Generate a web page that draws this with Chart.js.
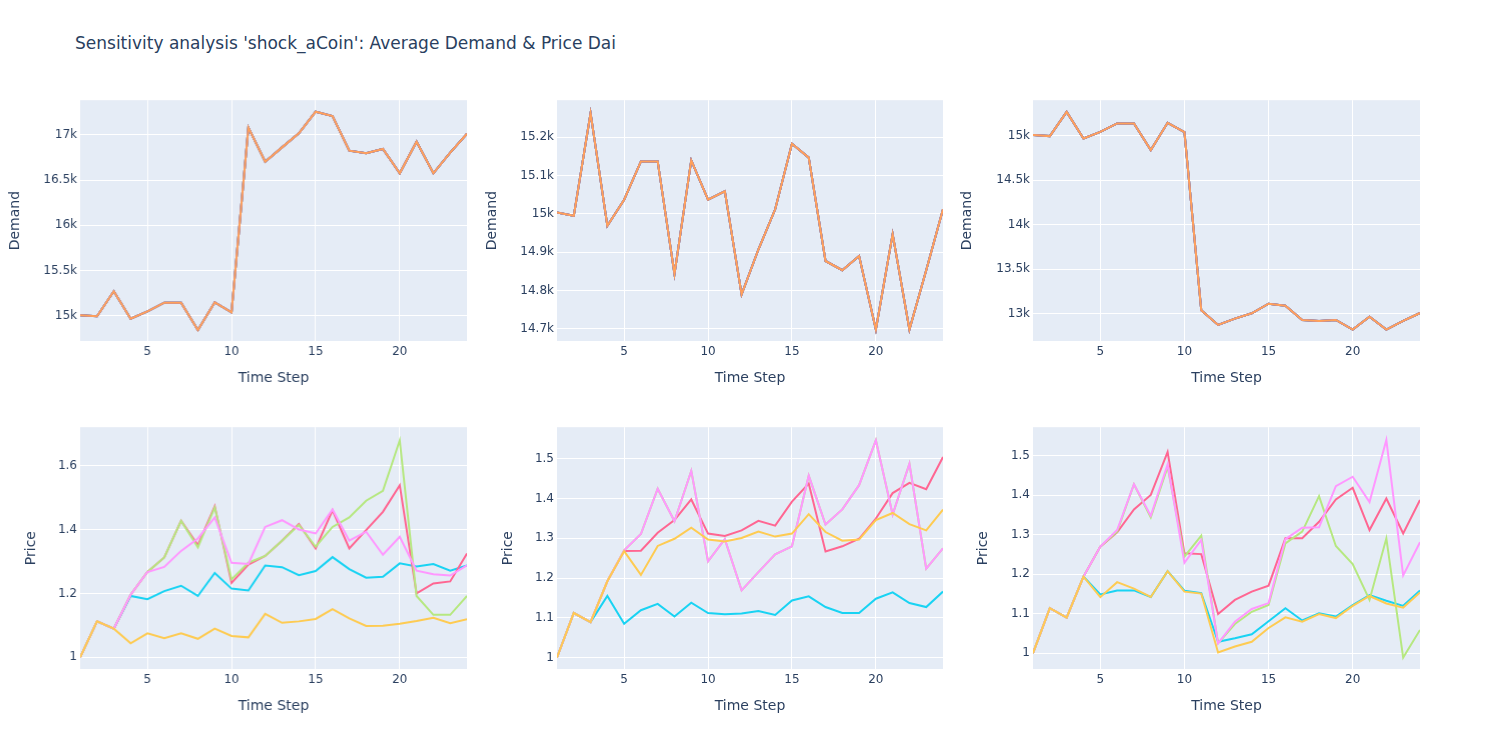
<!DOCTYPE html>
<html>
<head>
<meta charset="utf-8">
<script src="https://cdn.jsdelivr.net/npm/chart.js@4.4.1/dist/chart.umd.min.js"></script>
<style>
  body { margin: 0; background: #fff; width: 1500px; height: 750px; overflow: hidden; font-family: "DejaVu Sans", sans-serif; }
  #title { position: absolute; left: 75px; top: 33px; font-size: 17px; color: #2a3f5f; white-space: nowrap; }
  canvas { position: absolute; }
</style>
</head>
<body>
<div id="title">Sensitivity analysis 'shock_aCoin': Average Demand &amp; Price Dai</div>
<canvas id="c1"></canvas>
<canvas id="c2"></canvas>
<canvas id="c3"></canvas>
<canvas id="c4"></canvas>
<canvas id="c5"></canvas>
<canvas id="c6"></canvas>
<script>
// time steps
const steps = [1, 2, 3, 4, 5, 6, 7, 8, 9, 10, 11, 12, 13, 14, 15, 16, 17, 18, 19, 20, 21, 22, 23, 24];
const xTicks = [5, 10, 15, 20];

// average demand, one per subplot (all sweep runs overlap)
const demandA = [15004, 14993, 15270, 14967, 15048, 15144, 15144, 14841, 15148, 15037, 17081, 16705,
                 16863, 17018, 17258, 17210, 16827, 16797, 16845, 16576, 16926, 16576, 16804, 17015];
const demandB = [15004, 14995, 15263, 14969, 15037, 15137, 15137, 14843, 15140, 15037, 15059, 14790,
                 14907, 15012, 15183, 15147, 14877, 14853, 14890, 14698, 14947, 14698, 14853, 15012];
const demandC = [15004, 14993, 15265, 14966, 15041, 15135, 15135, 14836, 15142, 15037, 13037, 12873,
                 12944, 13004, 13112, 13090, 12929, 12918, 12929, 12821, 12966, 12821, 12918, 13007];

// price Dai, subplot 4
const priceA_cyan = [1.0, 1.1125, 1.0896, 1.192, 1.182, 1.207, 1.224, 1.192, 1.264, 1.215, 1.209, 1.2875,
                     1.282, 1.257, 1.270, 1.3135, 1.276, 1.249, 1.252, 1.294, 1.284, 1.292, 1.271, 1.2875];
const priceA_red = [1.0, 1.1125, 1.0896, 1.196, 1.267, 1.3125, 1.427, 1.351, 1.473, 1.233, 1.290, 1.317,
                    1.365, 1.417, 1.341, 1.460, 1.341, 1.398, 1.455, 1.5385, 1.200, 1.231, 1.2375, 1.325];
const priceA_green = [1.0, 1.1125, 1.0896, 1.196, 1.267, 1.3125, 1.427, 1.344, 1.469, 1.244, 1.296, 1.317,
                      1.365, 1.414, 1.346, 1.408, 1.4375, 1.490, 1.521, 1.679, 1.192, 1.133, 1.133, 1.192];
const priceA_pink = [1.0, 1.1125, 1.0896, 1.196, 1.267, 1.283, 1.333, 1.372, 1.4375, 1.296, 1.292, 1.408,
                     1.429, 1.400, 1.3875, 1.4625, 1.365, 1.393, 1.321, 1.377, 1.271, 1.260, 1.256, 1.2875];
const priceA_yellow = [1.0, 1.1125, 1.0896, 1.044, 1.075, 1.060, 1.075, 1.058, 1.090, 1.067, 1.0625, 1.136,
                       1.108, 1.1125, 1.120, 1.151, 1.122, 1.098, 1.099, 1.105, 1.1135, 1.124, 1.107, 1.119];

// price Dai, subplot 5
const priceB_cyan = [1.0, 1.112, 1.089, 1.155, 1.085, 1.119, 1.135, 1.103, 1.138, 1.112, 1.109, 1.111,
                     1.117, 1.107, 1.1435, 1.154, 1.127, 1.112, 1.112, 1.148, 1.164, 1.137, 1.127, 1.166];
const priceB_red = [1.0, 1.112, 1.089, 1.192, 1.268, 1.269, 1.314, 1.346, 1.398, 1.312, 1.306, 1.320,
                    1.344, 1.332, 1.3925, 1.438, 1.267, 1.280, 1.299, 1.350, 1.414, 1.440, 1.424, 1.505];
const priceB_green = [1.0, 1.112, 1.089, 1.192, 1.270, 1.311, 1.425, 1.343, 1.470, 1.242, 1.298, 1.169,
                      1.215, 1.260, 1.280, 1.458, 1.335, 1.373, 1.434, 1.547, 1.360, 1.488, 1.224, 1.275];
const priceB_pink = [1.0, 1.112, 1.089, 1.192, 1.270, 1.311, 1.425, 1.343, 1.470, 1.242, 1.298, 1.169,
                     1.215, 1.260, 1.280, 1.458, 1.335, 1.373, 1.434, 1.547, 1.360, 1.488, 1.224, 1.275];
const priceB_yellow = [1.0, 1.112, 1.089, 1.192, 1.268, 1.208, 1.281, 1.299, 1.327, 1.297, 1.292, 1.301,
                       1.317, 1.3045, 1.312, 1.361, 1.316, 1.294, 1.297, 1.346, 1.364, 1.336, 1.320, 1.3725];

// price Dai, subplot 6
const priceC_cyan = [1.0, 1.114, 1.090, 1.194, 1.149, 1.159, 1.159, 1.1425, 1.208, 1.1585, 1.152, 1.029,
                     1.038, 1.048, 1.081, 1.114, 1.083, 1.101, 1.093, 1.122, 1.1475, 1.133, 1.120, 1.159];
const priceC_red = [1.0, 1.114, 1.090, 1.194, 1.270, 1.306, 1.364, 1.401, 1.510, 1.253, 1.251, 1.0995,
                    1.135, 1.156, 1.171, 1.291, 1.291, 1.333, 1.3895, 1.419, 1.312, 1.392, 1.3035, 1.388];
const priceC_green = [1.0, 1.114, 1.090, 1.194, 1.270, 1.308, 1.428, 1.344, 1.472, 1.2445, 1.298, 1.025,
                      1.074, 1.105, 1.122, 1.278, 1.308, 1.398, 1.2715, 1.226, 1.135, 1.291, 0.989, 1.059];
const priceC_pink = [1.0, 1.114, 1.090, 1.194, 1.270, 1.312, 1.428, 1.348, 1.478, 1.229, 1.287, 1.025,
                     1.080, 1.112, 1.127, 1.289, 1.318, 1.319, 1.423, 1.447, 1.383, 1.540, 1.197, 1.281];
const priceC_yellow = [1.0, 1.114, 1.090, 1.194, 1.142, 1.180, 1.1635, 1.1425, 1.208, 1.156, 1.151, 1.002,
                       1.017, 1.029, 1.064, 1.091, 1.080, 1.099, 1.089, 1.120, 1.145, 1.126, 1.1155, 1.154];

// y tick values
const demandTicksA = [15000, 15500, 16000, 16500, 17000];
const demandTicksB = [14700, 14800, 14900, 15000, 15100, 15200];
const demandTicksC = [13000, 13500, 14000, 14500, 15000];
const priceTicksA = [1, 1.2, 1.4, 1.6];
const priceTicksB = [1, 1.1, 1.2, 1.3, 1.4, 1.5];
const priceTicksC = [1, 1.1, 1.2, 1.3, 1.4, 1.5];

const topColors = ['#636EFA', '#EF553B', '#00CC96', '#AB63FA', '#FFA15A'];
const bottomColors = ['#19D3F3', '#FF6692', '#B6E880', '#FF97FF', '#FECB52'];

const FONT = '"DejaVu Sans", "Open Sans", sans-serif';
const TXT = '#2a3f5f';

// plot area rectangles (left, top, width, height) in page pixels
const panels = [
  { id: 'c1', left: 80, top: 100, w: 386.5, h: 241, series: [demandA, demandA, demandA, demandA, demandA], colors: topColors,
    ymin: 14720, ymax: 17385, yTicks: demandTicksA, fmt: v => (v / 1000) + 'k', ytitle: 'Demand', titleGap: 65 },
  { id: 'c2', left: 556.5, top: 100, w: 386.5, h: 241, series: [demandB, demandB, demandB, demandB, demandB], colors: topColors,
    ymin: 14668, ymax: 15297, yTicks: demandTicksB, fmt: v => (v / 1000) + 'k', ytitle: 'Demand', titleGap: 65 },
  { id: 'c3', left: 1033, top: 100, w: 387, h: 241, series: [demandC, demandC, demandC, demandC, demandC], colors: topColors,
    ymin: 12693, ymax: 15396, yTicks: demandTicksC, fmt: v => (v / 1000) + 'k', ytitle: 'Demand', titleGap: 66 },
  { id: 'c4', left: 80, top: 427, w: 386.5, h: 242, series: [priceA_cyan, priceA_red, priceA_green, priceA_pink, priceA_yellow], colors: bottomColors,
    ymin: 0.9635, ymax: 1.72, yTicks: priceTicksA, fmt: v => String(v), ytitle: 'Price', titleGap: 49 },
  { id: 'c5', left: 556.5, top: 427, w: 386.5, h: 242, series: [priceB_cyan, priceB_red, priceB_green, priceB_pink, priceB_yellow], colors: bottomColors,
    ymin: 0.971, ymax: 1.58, yTicks: priceTicksB, fmt: v => String(v), ytitle: 'Price', titleGap: 49 },
  { id: 'c6', left: 1033, top: 427, w: 387, h: 242, series: [priceC_cyan, priceC_red, priceC_green, priceC_pink, priceC_yellow], colors: bottomColors,
    ymin: 0.960, ymax: 1.5725, yTicks: priceTicksC, fmt: v => String(v), ytitle: 'Price', titleGap: 50 }
];

const LEFT_PAD = 80, TOP_PAD = 10, RIGHT_PAD = 10, BOTTOM_PAD = 60;

// plot background, plotly style
const bgPlugin = {
  id: 'plotBg',
  beforeDraw(chart) {
    const { ctx, chartArea: { left, top, right, bottom } } = chart;
    ctx.save();
    ctx.fillStyle = '#E5ECF6';
    ctx.fillRect(left, top, right - left, bottom - top);
    ctx.restore();
  }
};

panels.forEach(p => {
  const canvas = document.getElementById(p.id);
  canvas.style.left = (p.left - LEFT_PAD) + 'px';
  canvas.style.top = (p.top - TOP_PAD) + 'px';
  canvas.style.width = (p.w + LEFT_PAD + RIGHT_PAD) + 'px';
  canvas.style.height = (p.h + TOP_PAD + BOTTOM_PAD) + 'px';

  const datasets = p.series.map((vals, i) => ({
    data: steps.map((s, k) => ({ x: s, y: vals[k] })),
    borderColor: p.colors[i],
    backgroundColor: p.colors[i],
    borderWidth: 2,
    pointRadius: 0,
    tension: 0,
    order: 10 - i
  }));

  new Chart(canvas.getContext('2d'), {
    type: 'line',
    data: { datasets: datasets },
    options: {
      responsive: false,
      animation: false,
      devicePixelRatio: 1,
      layout: { padding: { top: TOP_PAD, right: RIGHT_PAD, left: 0, bottom: 0 } },
      plugins: { legend: { display: false }, tooltip: { enabled: false } },
      scales: {
        x: {
          type: 'linear',
          min: 1,
          max: 24,
          afterBuildTicks: s => { s.ticks = xTicks.map(v => ({ value: v })); },
          afterFit: s => { s.height = BOTTOM_PAD; },
          grid: { color: '#ffffff', lineWidth: 1, drawTicks: false },
          border: { display: false },
          ticks: { color: TXT, font: { family: FONT, size: 12 }, padding: 4, maxRotation: 0 },
          title: { display: true, text: 'Time Step', color: TXT, font: { family: FONT, size: 14 }, padding: { top: 0, bottom: 14.6 } }
        },
        y: {
          min: p.ymin,
          max: p.ymax,
          afterBuildTicks: s => { s.ticks = p.yTicks.map(v => ({ value: v })); },
          afterFit: s => { s.width = LEFT_PAD; },
          grid: { color: '#ffffff', lineWidth: 1, drawTicks: false },
          border: { display: false },
          ticks: { color: TXT, font: { family: FONT, size: 12 }, padding: 3, callback: v => p.fmt(v) },
          title: { display: true, text: p.ytitle, color: TXT, font: { family: FONT, size: 14 }, padding: { top: LEFT_PAD - p.titleGap - 8.4, bottom: 0 } }
        }
      }
    },
    plugins: [bgPlugin]
  });
});
</script>
</body>
</html>
